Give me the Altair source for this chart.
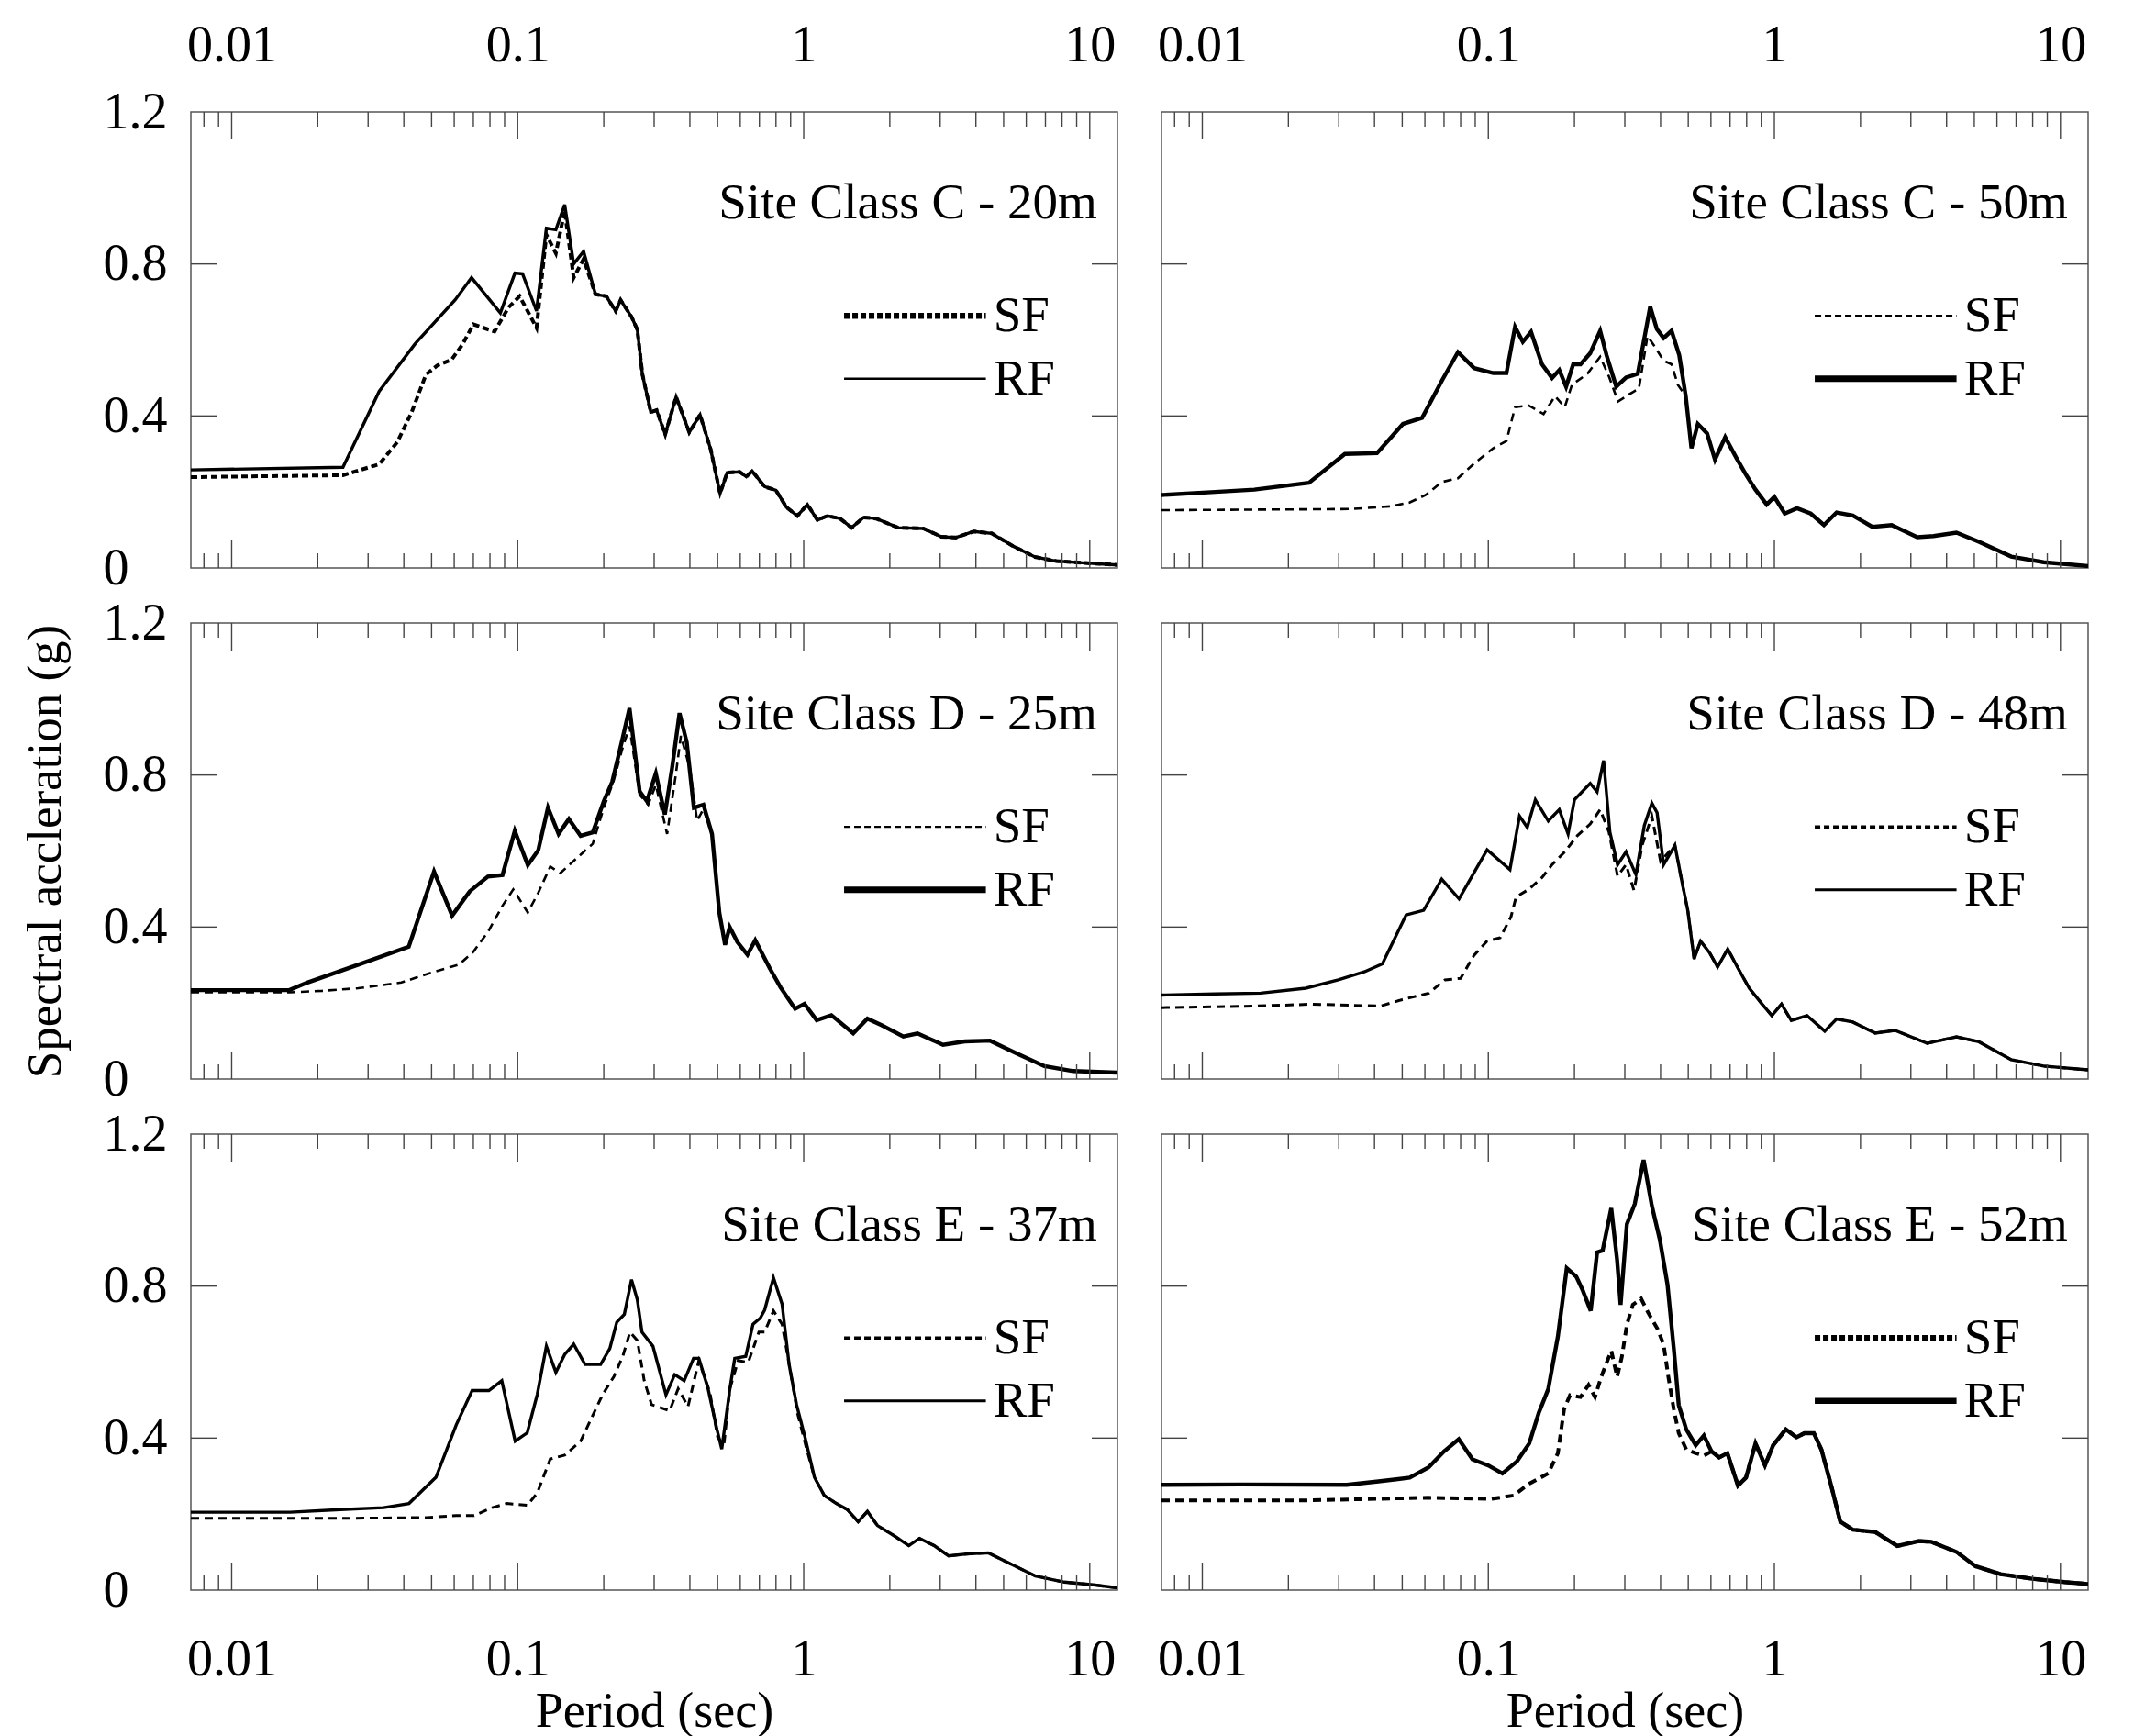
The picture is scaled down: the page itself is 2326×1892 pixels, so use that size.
import altair as alt
import pandas as pd

# ---------------- data ----------------
XMIN, XMAX = 0.0072, 12.5
X_LABELS = [0.01, 0.1, 1, 10]
Y_LABELS = [0, 0.4, 0.8, 1.2]
MAJOR_TICKS = [0.01, 0.1, 1, 10]
MINOR_TICKS = [0.008, 0.009, 0.02, 0.03, 0.04, 0.05, 0.06, 0.07, 0.08, 0.09,
               0.2, 0.3, 0.4, 0.5, 0.6, 0.7, 0.8, 0.9,
               2, 3, 4, 5, 6, 7, 8, 9]
Y_TICKS = [0.4, 0.8]

TITLES = ["Site Class C - 20m", "Site Class C - 50m", "Site Class D - 25m",
          "Site Class D - 48m", "Site Class E - 37m", "Site Class E - 52m"]

# Panel 1: Site Class C - 20m
P1_RF_T = [0.0072, 0.0245, 0.0328, 0.0438, 0.0604, 0.069, 0.087, 0.0978, 0.104, 0.1164, 0.126, 0.136, 0.146, 0.157, 0.170]
P1_RF_V = [0.258, 0.265, 0.465, 0.59, 0.705, 0.764, 0.671, 0.776, 0.774, 0.676, 0.894, 0.89, 0.956, 0.80, 0.833]
P1_SF_T = [0.0072, 0.0245, 0.0328, 0.038, 0.0426, 0.0478, 0.0524, 0.0587, 0.064, 0.070, 0.083, 0.093, 0.1016, 0.1164, 0.126, 0.136, 0.146, 0.157, 0.170]
P1_SF_V = [0.239, 0.244, 0.273, 0.332, 0.41, 0.509, 0.533, 0.548, 0.587, 0.641, 0.622, 0.686, 0.715, 0.632, 0.877, 0.828, 0.94, 0.764, 0.813]
P1_TAIL_T = [0.187, 0.204, 0.220, 0.229, 0.250, 0.262, 0.273, 0.292, 0.306, 0.328, 0.358, 0.398, 0.434, 0.473, 0.510, 0.54, 0.597, 0.63, 0.66, 0.73, 0.80, 0.87, 0.95, 1.03, 1.117, 1.21, 1.34, 1.47, 1.62, 1.79, 2.14, 2.62, 3.03, 3.40, 3.93, 4.54, 5.41, 6.43, 7.65, 9.66, 12.5]
P1_TAIL_V = [0.72, 0.715, 0.676, 0.705, 0.661, 0.627, 0.509, 0.41, 0.415, 0.352, 0.45, 0.357, 0.403, 0.312, 0.196, 0.251, 0.253, 0.24, 0.255, 0.214, 0.204, 0.16, 0.137, 0.167, 0.126, 0.137, 0.13, 0.106, 0.133, 0.13, 0.106, 0.104, 0.082, 0.08, 0.096, 0.091, 0.057, 0.029, 0.018, 0.013, 0.008]

# Panel 2: Site Class C - 50m
P2_RF_T = [0.0072, 0.0111, 0.0152, 0.0236, 0.0315, 0.0408, 0.0503, 0.0587, 0.0687, 0.0783, 0.0892, 0.104, 0.1157, 0.124, 0.132, 0.141, 0.154, 0.167, 0.177, 0.187, 0.198, 0.21, 0.227, 0.246, 0.259, 0.28, 0.303, 0.333, 0.368, 0.388, 0.41, 0.437, 0.465]
P2_RF_V = [0.192, 0.2, 0.206, 0.224, 0.30, 0.302, 0.379, 0.395, 0.492, 0.568, 0.526, 0.513, 0.513, 0.634, 0.595, 0.621, 0.536, 0.50, 0.521, 0.477, 0.536, 0.536, 0.565, 0.624, 0.56, 0.477, 0.501, 0.511, 0.688, 0.629, 0.605, 0.624, 0.56]
P2_SF_T = [0.0072, 0.033, 0.0453, 0.053, 0.0604, 0.0687, 0.0783, 0.0892, 0.104, 0.1157, 0.124, 0.138, 0.156, 0.171, 0.185, 0.196, 0.222, 0.246, 0.265, 0.284, 0.311, 0.336, 0.36, 0.384, 0.409, 0.437, 0.46]
P2_SF_V = [0.152, 0.155, 0.162, 0.172, 0.192, 0.226, 0.236, 0.275, 0.315, 0.334, 0.423, 0.428, 0.405, 0.452, 0.423, 0.482, 0.511, 0.556, 0.501, 0.438, 0.457, 0.472, 0.61, 0.58, 0.546, 0.536, 0.482]
P2_TAIL_T = [0.49, 0.513, 0.54, 0.582, 0.62, 0.673, 0.736, 0.795, 0.859, 0.94, 1.0, 1.087, 1.2, 1.34, 1.49, 1.65, 1.88, 2.2, 2.57, 3.16, 3.6, 4.33, 5.19, 6.73, 8.74, 12.5]
P2_TAIL_V = [0.452, 0.315, 0.379, 0.354, 0.285, 0.344, 0.29, 0.246, 0.206, 0.167, 0.187, 0.143, 0.157, 0.143, 0.113, 0.146, 0.138, 0.108, 0.113, 0.081, 0.084, 0.093, 0.069, 0.03, 0.015, 0.005]

# Panel 3: Site Class D - 25m
P3_RF_T = [0.0072, 0.0159, 0.0184, 0.0277, 0.0416, 0.051, 0.059, 0.068, 0.0787, 0.0885, 0.0977, 0.1085, 0.118, 0.1276, 0.139, 0.151, 0.166, 0.183, 0.2, 0.214, 0.231, 0.246, 0.267, 0.283, 0.304, 0.327, 0.347, 0.368, 0.39, 0.413, 0.446]
P3_RF_V = [0.234, 0.234, 0.254, 0.301, 0.348, 0.546, 0.43, 0.494, 0.533, 0.537, 0.653, 0.563, 0.602, 0.714, 0.645, 0.684, 0.64, 0.649, 0.731, 0.782, 0.886, 0.976, 0.757, 0.731, 0.804, 0.696, 0.821, 0.963, 0.886, 0.714, 0.722]
P3_SF_T = [0.0072, 0.0159, 0.0207, 0.0277, 0.0392, 0.0494, 0.0624, 0.070, 0.0787, 0.0885, 0.0965, 0.1085, 0.118, 0.13, 0.141, 0.158, 0.183, 0.2, 0.216, 0.232, 0.246, 0.267, 0.286, 0.304, 0.333, 0.357, 0.372, 0.4, 0.424, 0.446]
P3_SF_V = [0.228, 0.228, 0.232, 0.239, 0.254, 0.279, 0.301, 0.335, 0.387, 0.456, 0.499, 0.438, 0.49, 0.559, 0.542, 0.576, 0.619, 0.714, 0.782, 0.868, 0.928, 0.748, 0.722, 0.774, 0.645, 0.80, 0.903, 0.817, 0.68, 0.71]
P3_TAIL_T = [0.478, 0.507, 0.531, 0.551, 0.586, 0.636, 0.677, 0.76, 0.83, 0.933, 1.006, 1.11, 1.25, 1.49, 1.67, 1.87, 2.23, 2.5, 3.07, 3.66, 4.48, 5.5, 6.94, 8.75, 12.5]
P3_TAIL_V = [0.645, 0.438, 0.353, 0.40, 0.361, 0.327, 0.365, 0.292, 0.241, 0.185, 0.198, 0.155, 0.168, 0.12, 0.159, 0.142, 0.112, 0.12, 0.09, 0.099, 0.101, 0.069, 0.034, 0.021, 0.017]

# Panel 4: Site Class D - 48m
P4_RF_T = [0.0072, 0.0111, 0.016, 0.023, 0.0299, 0.0368, 0.0426, 0.0516, 0.0594, 0.0687, 0.079, 0.099, 0.119, 0.1285, 0.1368, 0.146, 0.162, 0.177, 0.19, 0.2, 0.227, 0.24, 0.253, 0.266, 0.283, 0.303, 0.328, 0.351, 0.373, 0.389, 0.41, 0.449]
P4_RF_V = [0.221, 0.224, 0.226, 0.239, 0.261, 0.282, 0.303, 0.432, 0.444, 0.526, 0.474, 0.603, 0.551, 0.692, 0.662, 0.735, 0.679, 0.709, 0.645, 0.735, 0.778, 0.756, 0.838, 0.65, 0.564, 0.598, 0.538, 0.667, 0.726, 0.701, 0.564, 0.615]
P4_SF_T = [0.0072, 0.0152, 0.0243, 0.0419, 0.05, 0.062, 0.0705, 0.080, 0.089, 0.099, 0.11, 0.12, 0.125, 0.139, 0.154, 0.167, 0.185, 0.205, 0.227, 0.246, 0.264, 0.283, 0.303, 0.323, 0.345, 0.373, 0.4, 0.449]
P4_SF_V = [0.188, 0.192, 0.197, 0.192, 0.209, 0.226, 0.261, 0.265, 0.325, 0.363, 0.372, 0.427, 0.479, 0.50, 0.53, 0.564, 0.598, 0.641, 0.671, 0.709, 0.65, 0.534, 0.564, 0.496, 0.615, 0.692, 0.573, 0.615]
P4_TAIL_T = [0.477, 0.498, 0.524, 0.552, 0.593, 0.633, 0.687, 0.742, 0.817, 0.906, 0.98, 1.059, 1.146, 1.30, 1.5, 1.65, 1.88, 2.25, 2.64, 3.42, 4.33, 5.19, 6.73, 8.74, 12.5]
P4_TAIL_V = [0.513, 0.444, 0.316, 0.363, 0.333, 0.295, 0.342, 0.295, 0.239, 0.197, 0.167, 0.197, 0.154, 0.167, 0.126, 0.158, 0.15, 0.121, 0.128, 0.094, 0.111, 0.098, 0.051, 0.034, 0.024]

# Panel 5: Site Class E - 37m
P5_RF_T = [0.0072, 0.016, 0.024, 0.034, 0.0417, 0.0518, 0.061, 0.0693, 0.0793, 0.088, 0.098, 0.108, 0.117, 0.126, 0.136, 0.146, 0.157, 0.172, 0.195, 0.21, 0.222, 0.236, 0.25, 0.262, 0.272, 0.297, 0.33, 0.354, 0.382, 0.412, 0.43, 0.463, 0.497, 0.517, 0.552, 0.574, 0.627, 0.665, 0.705, 0.73, 0.784, 0.84, 0.889, 0.944, 1.01]
P5_RF_V = [0.205, 0.205, 0.212, 0.217, 0.228, 0.297, 0.435, 0.525, 0.525, 0.551, 0.392, 0.414, 0.514, 0.642, 0.573, 0.62, 0.647, 0.594, 0.594, 0.636, 0.705, 0.726, 0.817, 0.764, 0.679, 0.642, 0.514, 0.567, 0.551, 0.61, 0.61, 0.53, 0.424, 0.371, 0.53, 0.61, 0.615, 0.70, 0.716, 0.737, 0.822, 0.753, 0.594, 0.488, 0.403]
P5_SF_T = [0.0072, 0.0269, 0.0483, 0.061, 0.0705, 0.0815, 0.0915, 0.108, 0.117, 0.13, 0.146, 0.166, 0.182, 0.198, 0.217, 0.233, 0.247, 0.262, 0.277, 0.294, 0.34, 0.364, 0.394, 0.43, 0.47, 0.50, 0.526, 0.552, 0.59, 0.64, 0.697, 0.73, 0.784, 0.84, 0.9, 0.95, 1.02]
P5_SF_V = [0.189, 0.189, 0.191, 0.196, 0.196, 0.217, 0.228, 0.223, 0.255, 0.345, 0.355, 0.392, 0.456, 0.514, 0.562, 0.615, 0.679, 0.657, 0.551, 0.488, 0.472, 0.53, 0.483, 0.604, 0.52, 0.403, 0.382, 0.53, 0.604, 0.599, 0.679, 0.679, 0.735, 0.70, 0.573, 0.467, 0.376]
P5_TAIL_T = [1.09, 1.18, 1.30, 1.42, 1.55, 1.67, 1.81, 2.07, 2.33, 2.54, 2.86, 3.21, 3.71, 4.42, 5.12, 6.46, 8.15, 10.3, 12.5]
P5_TAIL_V = [0.297, 0.249, 0.228, 0.212, 0.18, 0.207, 0.17, 0.143, 0.117, 0.136, 0.117, 0.09, 0.095, 0.098, 0.074, 0.037, 0.021, 0.014, 0.006]

# Panel 6: Site Class E - 52m
P6_RF_T = [0.0072, 0.0136, 0.032, 0.0413, 0.0531, 0.0618, 0.070, 0.0788, 0.088, 0.1, 0.112, 0.126, 0.139, 0.15, 0.162, 0.175, 0.188, 0.203, 0.214, 0.228, 0.24, 0.251, 0.269, 0.282, 0.29, 0.305, 0.325, 0.349, 0.373, 0.398, 0.423, 0.445, 0.463, 0.492, 0.531, 0.567]
P6_RF_V = [0.277, 0.278, 0.277, 0.286, 0.296, 0.323, 0.365, 0.397, 0.344, 0.328, 0.307, 0.339, 0.386, 0.466, 0.529, 0.667, 0.847, 0.825, 0.788, 0.735, 0.889, 0.894, 1.005, 0.868, 0.751, 0.963, 1.016, 1.132, 1.011, 0.921, 0.804, 0.635, 0.487, 0.423, 0.381, 0.407]
P6_SF_T = [0.0072, 0.0225, 0.0618, 0.1026, 0.1225, 0.139, 0.162, 0.175, 0.184, 0.193, 0.21, 0.224, 0.236, 0.248, 0.269, 0.282, 0.293, 0.305, 0.32, 0.342, 0.362, 0.39, 0.41, 0.426, 0.445, 0.463, 0.492, 0.531, 0.567]
P6_SF_V = [0.236, 0.236, 0.243, 0.24, 0.249, 0.28, 0.307, 0.36, 0.476, 0.513, 0.508, 0.54, 0.508, 0.561, 0.63, 0.561, 0.614, 0.698, 0.751, 0.767, 0.73, 0.688, 0.646, 0.561, 0.476, 0.413, 0.37, 0.36, 0.354]
P6_TAIL_T = [0.603, 0.641, 0.685, 0.746, 0.796, 0.859, 0.927, 0.99, 1.096, 1.195, 1.274, 1.374, 1.46, 1.58, 1.70, 1.88, 2.25, 2.69, 3.2, 3.54, 4.34, 5.05, 6.18, 7.96, 10.35, 12.5]
P6_TAIL_V = [0.365, 0.349, 0.36, 0.275, 0.296, 0.386, 0.328, 0.381, 0.423, 0.402, 0.413, 0.413, 0.37, 0.275, 0.18, 0.159, 0.153, 0.116, 0.129, 0.127, 0.10, 0.063, 0.042, 0.03, 0.021, 0.016]

SERIES = [
    (P1_RF_T, P1_RF_V, P1_SF_T, P1_SF_V, P1_TAIL_T, P1_TAIL_V),
    (P2_RF_T, P2_RF_V, P2_SF_T, P2_SF_V, P2_TAIL_T, P2_TAIL_V),
    (P3_RF_T, P3_RF_V, P3_SF_T, P3_SF_V, P3_TAIL_T, P3_TAIL_V),
    (P4_RF_T, P4_RF_V, P4_SF_T, P4_SF_V, P4_TAIL_T, P4_TAIL_V),
    (P5_RF_T, P5_RF_V, P5_SF_T, P5_SF_V, P5_TAIL_T, P5_TAIL_V),
    (P6_RF_T, P6_RF_V, P6_SF_T, P6_SF_V, P6_TAIL_T, P6_TAIL_V),
]

# ---------------- styles ----------------
FONT = "Liberation Serif, Tinos, Times New Roman, Times, DejaVu Serif, serif"
W, H = 1010, 497
# (rf curve width, sf curve width, sf dash, legend rf width, legend sf width, legend sf dash)
STYLES = [
    (3.4, 4.0, [7, 4], 2.5, 6.5, [6, 3]),
    (4.4, 2.6, [9, 6], 7.0, 2.4, [7, 4]),
    (4.4, 2.6, [9, 6], 7.0, 2.4, [7, 4]),
    (3.4, 3.0, [9, 6], 3.0, 3.5, [6, 4]),
    (3.4, 3.0, [9, 6], 3.0, 3.5, [7, 4]),
    (4.4, 4.0, [9, 6], 6.5, 6.5, [6, 3]),
]

xscale = alt.Scale(type="log", domain=[XMIN, XMAX])
yscale = alt.Scale(domain=[0, 1.2])


def make_panel(i):
    row, col = divmod(i, 2)
    rf_t, rf_v, sf_t, sf_v, tl_t, tl_v = SERIES[i]
    rf_w, sf_w, sf_dash, lg_rf_w, lg_sf_w, lg_sf_dash = STYLES[i]
    rf = pd.DataFrame({"T": rf_t + tl_t, "v": rf_v + tl_v})
    sf = pd.DataFrame({"T": sf_t + tl_t, "v": sf_v + tl_v})

    if row == 2:
        x_bottom = alt.Axis(orient="bottom", values=X_LABELS, format="~g", ticks=False, tickSize=0,
                            domain=False, grid=False, labelFontSize=56, labelPadding=48,
                            labelFlush=False, title="Period (sec)", titleFontSize=54,
                            titleFontWeight="normal", titlePadding=2)
    else:
        x_bottom = None
    if row == 0:
        x_top = alt.Axis(orient="top", values=X_LABELS, format="~g", ticks=False, tickSize=0,
                         domain=False, grid=False, labelFontSize=56, labelPadding=44,
                         labelFlush=False, title=None)
    else:
        x_top = None
    if col == 0:
        y_left = alt.Axis(orient="left", values=Y_LABELS, format="~g", ticks=False, tickSize=0,
                          domain=False, grid=False, labelAlign="left", labelPadding=96,
                          labelFontSize=56, labelFlush=False,
                          title=("Spectral accleration (g)" if row == 1 else None),
                          titleFontSize=53, titleFontWeight="normal", titlePadding=36)
    else:
        y_left = None

    rf_line = alt.Chart(rf).mark_line(color="black", strokeWidth=rf_w, clip=True).encode(
        x=alt.X("T:Q", scale=xscale, axis=x_bottom),
        y=alt.Y("v:Q", scale=yscale, axis=y_left),
    )
    sf_line = alt.Chart(sf).mark_line(color="black", strokeWidth=sf_w, strokeDash=sf_dash, clip=True).encode(
        x=alt.X("T:Q", scale=xscale, axis=x_top),
        y=alt.Y("v:Q", scale=yscale, axis=None),
    )

    maj = pd.DataFrame({"T": MAJOR_TICKS})
    mnr = pd.DataFrame({"T": MINOR_TICKS})
    yt = pd.DataFrame({"v": Y_TICKS})
    tick_layers = []
    for df, ln in ((maj, 30), (mnr, 16)):
        tick_layers.append(alt.Chart(df).mark_rule(color="#444", strokeWidth=1.4).encode(
            x=alt.X("T:Q", scale=xscale, axis=None), y=alt.value(0), y2=alt.value(ln)))
        tick_layers.append(alt.Chart(df).mark_rule(color="#444", strokeWidth=1.4).encode(
            x=alt.X("T:Q", scale=xscale, axis=None), y=alt.value(H), y2=alt.value(H - ln)))
    tick_layers.append(alt.Chart(yt).mark_rule(color="#444", strokeWidth=1.4).encode(
        y=alt.Y("v:Q", scale=yscale, axis=None), x=alt.value(0), x2=alt.value(28)))
    tick_layers.append(alt.Chart(yt).mark_rule(color="#444", strokeWidth=1.4).encode(
        y=alt.Y("v:Q", scale=yscale, axis=None), x=alt.value(W), x2=alt.value(W - 28)))

    title = alt.Chart(pd.DataFrame({"label": [TITLES[i]]})).mark_text(
        align="right", baseline="middle", fontSize=55, font=FONT, color="black").encode(
        text="label:N", x=alt.value(0.978 * W), y=alt.value(0.20 * H))

    leg_sf_line = alt.Chart(pd.DataFrame({"k": ["SF"]})).mark_rule(
        color="black", strokeWidth=lg_sf_w, strokeDash=lg_sf_dash).encode(
        x=alt.value(0.705 * W), x2=alt.value(0.858 * W), y=alt.value(0.447 * H))
    leg_rf_line = alt.Chart(pd.DataFrame({"k": ["RF"]})).mark_rule(
        color="black", strokeWidth=lg_rf_w).encode(
        x=alt.value(0.705 * W), x2=alt.value(0.858 * W), y=alt.value(0.585 * H))
    leg_text = alt.Chart(pd.DataFrame({"k": ["SF", "RF"], "pos": [0.447 * H, 0.585 * H]})).mark_text(
        align="left", baseline="middle", fontSize=55, font=FONT, color="black").encode(
        text="k:N", x=alt.value(0.866 * W), y=alt.Y("pos:Q", scale=None, axis=None))

    layer = alt.layer(rf_line, sf_line, *tick_layers, title, leg_sf_line, leg_rf_line, leg_text).resolve_axis(
        x="independent", y="independent").properties(width=W, height=H)
    return layer


panels = [make_panel(i) for i in range(6)]

chart = alt.concat(*panels, columns=2, spacing={"row": 60, "column": 48}, bounds="flush").properties(
    padding={"left": 14, "top": 12, "right": 10, "bottom": 10}
).configure(font=FONT).configure_view(
    stroke="#555", strokeWidth=1.5
).configure_axis(
    labelFont=FONT, titleFont=FONT, labelColor="black", titleColor="black"
).configure_text(font=FONT)

chart.save("out.html", embed_options={"renderer": "svg", "actions": False})
